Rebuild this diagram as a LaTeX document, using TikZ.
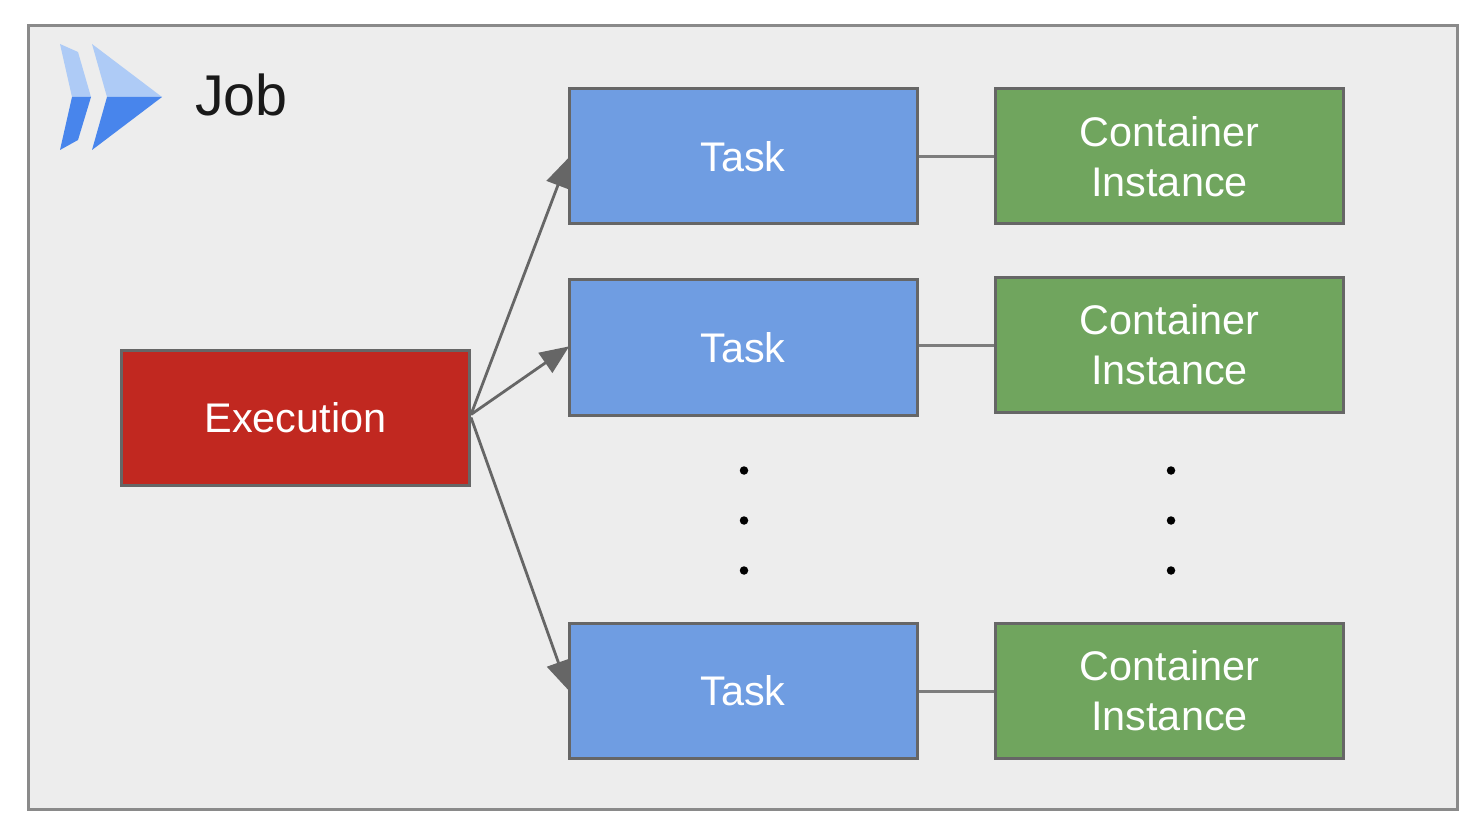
\documentclass[tikz,border=0pt]{standalone}
\usepackage{fontspec}
\setmainfont{Liberation Sans}
\usetikzlibrary{arrows.meta,calc}
\definecolor{jobbg}{HTML}{EDEDED}
\definecolor{jobln}{HTML}{8A8A8A}
\definecolor{boxln}{HTML}{666666}
\definecolor{taskc}{HTML}{6F9DE2}
\definecolor{contc}{HTML}{70A55E}
\definecolor{execc}{HTML}{C12820}
\definecolor{lineg}{HTML}{666666}
\definecolor{logol}{HTML}{AECBF6}
\definecolor{logod}{HTML}{4885EC}
\tikzset{
  x=1pt,y=-1pt,
  basebox/.style={draw=boxln,line width=3pt,minimum width=348pt,minimum height=135pt,inner sep=0pt,
    text=white,align=center,font=\fontsize{41.4}{50}\selectfont},
  taskbox/.style={basebox,fill=taskc},
  contbox/.style={basebox,fill=contc},
  execbox/.style={basebox,fill=execc},
  arrowline/.style={draw=lineg,line width=2.8pt,-{Triangle[length=29pt,width=24pt]},shorten >=-2pt},
  linkline/.style={draw=lineg!85!white,line width=3pt},
  dotmark/.style={circle,fill=black,minimum size=8.5pt,inner sep=0pt},
}
\begin{document}
\begin{tikzpicture}
\useasboundingbox (0,0) rectangle (1478,834);
\fill[white] (0,0) rectangle (1478,834);
\node[draw=jobln,fill=jobbg,line width=3pt,minimum width=1429pt,minimum height=784pt,inner sep=0pt] (job) at (743,417.5) {};
% logo
\fill[logol] (60,44) -- (78,52) -- (91,97) -- (72,97) -- cycle;
\fill[logod] (72,97) -- (91,97) -- (78,140) -- (60,150) -- cycle;
\fill[logol] (92,44) -- (162,97) -- (107,97) -- cycle;
\fill[logod] (107,97) -- (162,97) -- (92,150) -- cycle;
\node[anchor=west,inner sep=0pt,text=black!90,font=\fontsize{57.5}{60}\selectfont] (title) at (195,95) {Job};
\node[execbox] (exec) at (295.5,417.5) {Execution};
\node[taskbox] (t1) at (743,156.5) {Task};
\node[taskbox] (t2) at (743,347.5) {Task};
\node[taskbox] (t3) at (743,691) {Task};
\node[contbox] (c1) at (1169.5,156.5) {Container\\Instance};
\node[contbox] (c2) at (1169.5,345) {Container\\Instance};
\node[contbox] (c3) at (1169.5,691) {Container\\Instance};
\coordinate (src) at ($(exec.east)+(0,-3)$);
\draw[arrowline] (src) -- ($(t1.west)+(0,3.5)$);
\draw[arrowline] (src) -- ($(t2.west)+(0,0)$);
\draw[arrowline] (exec.east) -- ($(t3.west)+(0,-3)$);
\draw[linkline] (t1.east) -- (t1.east -| c1.west);
\draw[linkline] (t2.east |- c2.west) -- (c2.west);
\draw[linkline] (t3.east) -- (t3.east -| c3.west);
\node[dotmark] (d1) at (744,470.5) {};
\node[dotmark] (d2) at (744,520.5) {};
\node[dotmark] (d3) at (744,570.5) {};
\node[dotmark] (d4) at (1171,470.5) {};
\node[dotmark] (d5) at (1171,520.5) {};
\node[dotmark] (d6) at (1171,570.5) {};
\end{tikzpicture}
\end{document}
